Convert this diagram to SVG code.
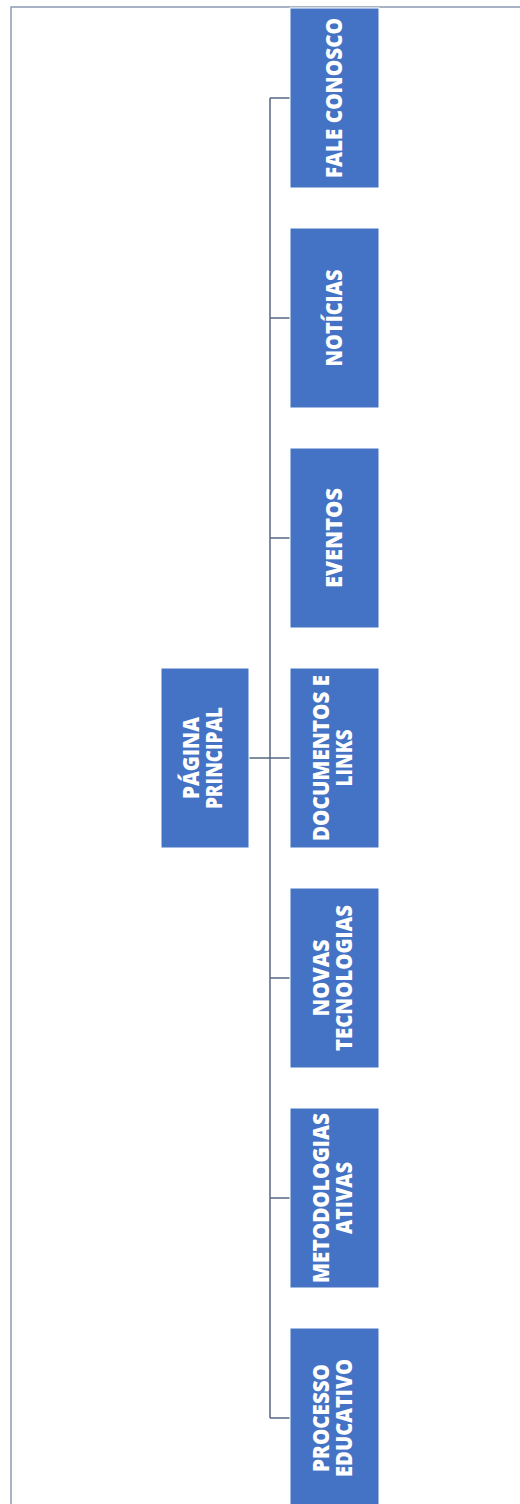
<svg xmlns="http://www.w3.org/2000/svg" width="520" height="1504" viewBox="0 0 520 1504">
<style>
.frame{fill:none;stroke:#8C9BB4;stroke-width:1.5}
.box{fill:#4472C4;stroke:#ffffff;stroke-width:1}
.lbl{font-family:"Open Sans","Noto Sans","Liberation Sans",sans-serif;font-weight:800;font-size:23px;fill:#ffffff;text-anchor:middle}
.conn{fill:none;stroke:#56667F;stroke-width:1.5}
</style>
<rect width="520" height="1504" fill="#ffffff"/>
<path class="frame" d="M11,1504 V7 H520"/>
<g id="connectors">
<path class="conn" d="M270,98 V1418"/>
<path class="conn" d="M249,758 H270"/>
<path class="conn" d="M270,98 H290 M270,318 H290 M270,538 H290 M270,758 H290 M270,978 H290 M270,1198 H290 M270,1418 H290"/>
</g>
<g id="pagina-principal">
<rect class="box" x="161" y="668" width="88" height="180"/>
<text class="lbl" transform="translate(199,758) rotate(-90)" textLength="82" lengthAdjust="spacingAndGlyphs">PÁGINA</text>
<text class="lbl" transform="translate(222,758) rotate(-90)" textLength="102" lengthAdjust="spacingAndGlyphs">PRINCIPAL</text>
</g>
<g id="fale-conosco">
<rect class="box" x="290" y="8" width="89" height="180"/>
<text class="lbl" transform="translate(342,98) rotate(-90)" textLength="160" lengthAdjust="spacingAndGlyphs">FALE CONOSCO</text>
</g>
<g id="noticias">
<rect class="box" x="290" y="228" width="89" height="180"/>
<text class="lbl" transform="translate(342,318) rotate(-90)" textLength="97" lengthAdjust="spacingAndGlyphs">NOTÍCIAS</text>
</g>
<g id="eventos">
<rect class="box" x="290" y="448" width="89" height="180"/>
<text class="lbl" transform="translate(342,538) rotate(-90)" textLength="100" lengthAdjust="spacingAndGlyphs">EVENTOS</text>
</g>
<g id="documentos-links">
<rect class="box" x="290" y="668" width="89" height="180"/>
<text class="lbl" transform="translate(329,758) rotate(-90)" textLength="166" lengthAdjust="spacingAndGlyphs">DOCUMENTOS E</text>
<text class="lbl" transform="translate(352,758) rotate(-90)" textLength="57" lengthAdjust="spacingAndGlyphs">LINKS</text>
</g>
<g id="novas-tecnologias">
<rect class="box" x="290" y="888" width="89" height="180"/>
<text class="lbl" transform="translate(329,978) rotate(-90)" textLength="77" lengthAdjust="spacingAndGlyphs">NOVAS</text>
<text class="lbl" transform="translate(352,978) rotate(-90)" textLength="146" lengthAdjust="spacingAndGlyphs">TECNOLOGIAS</text>
</g>
<g id="metodologias-ativas">
<rect class="box" x="290" y="1108" width="89" height="180"/>
<text class="lbl" transform="translate(329,1198) rotate(-90)" textLength="170" lengthAdjust="spacingAndGlyphs">METODOLOGIAS</text>
<text class="lbl" transform="translate(352,1198) rotate(-90)" textLength="72" lengthAdjust="spacingAndGlyphs">ATIVAS</text>
</g>
<g id="processo-educativo">
<rect class="box" x="290" y="1328" width="89" height="180"/>
<text class="lbl" transform="translate(329,1418) rotate(-90)" textLength="108" lengthAdjust="spacingAndGlyphs">PROCESSO</text>
<text class="lbl" transform="translate(352,1418) rotate(-90)" textLength="118" lengthAdjust="spacingAndGlyphs">EDUCATIVO</text>
</g>
</svg>
